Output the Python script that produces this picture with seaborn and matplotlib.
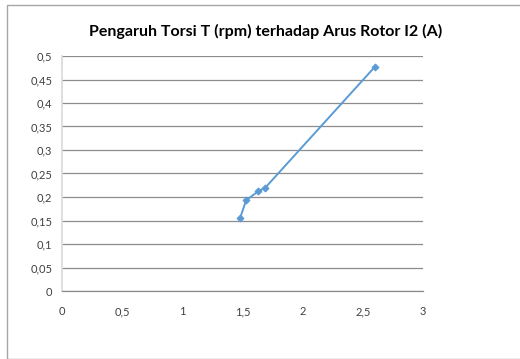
import matplotlib
matplotlib.use("Agg")
import matplotlib.pyplot as plt
import seaborn as sns
import pandas as pd
from matplotlib.ticker import FuncFormatter, MultipleLocator
from matplotlib.patches import Rectangle

torsi = [1.48, 1.53, 1.63, 1.69, 2.60]
arus = [0.155, 0.193, 0.212, 0.220, 0.477]
title = "Pengaruh Torsi T (rpm) terhadap Arus Rotor I2 (A)"

sns.set_style("white")
plt.rcParams['font.family'] = ['Lato', 'DejaVu Sans']

df = pd.DataFrame({"T": torsi, "I2": arus})

fig = plt.figure(figsize=(5.2, 3.59), dpi=100)
# outer chart border
fig.patches.append(Rectangle((7/520, 0), 1, 1 - 5/359, transform=fig.transFigure,
                             fill=False, edgecolor="#a6a6a6", linewidth=1.0))
ax = fig.add_axes([62/520, 1 - 291/359, (423 - 62)/520, (291 - 56)/359])

sns.lineplot(data=df, x="T", y="I2", ax=ax, sort=False, color="#5b9bd5",
             linewidth=1.4, marker="D", markersize=3.5, markeredgecolor="#5b9bd5")

ax.set_xlim(0, 3)
ax.set_ylim(0, 0.5)
ax.xaxis.set_major_locator(MultipleLocator(0.5))
ax.yaxis.set_major_locator(MultipleLocator(0.05))
fmt = FuncFormatter(lambda v, p: ("%g" % round(v, 2)).replace(".", ","))
ax.xaxis.set_major_formatter(fmt)
ax.yaxis.set_major_formatter(fmt)
ax.grid(axis="y", color="#8c8c8c", linewidth=0.9)
ax.grid(axis="x", visible=False)
for s in ["top", "right"]:
    ax.spines[s].set_visible(False)
ax.spines["left"].set_color("#d9d9d9")
ax.spines["left"].set_linewidth(1.2)
ax.spines["bottom"].set_color("#8c8c8c")
ax.spines["bottom"].set_linewidth(0.9)
ax.tick_params(axis="x", direction="out", length=4, width=0.9, color="#8c8c8c",
               labelsize=8, labelcolor="#404040", pad=7)
ax.tick_params(axis="y", direction="out", length=4, width=0.9, color="#8c8c8c",
               labelsize=8, labelcolor="#404040", pad=3)
ax.set_xlabel("")
ax.set_ylabel("")
fig.text(266/520, 1 - 31/359, title, fontsize=11.5, fontweight="bold",
         color="#000000", ha="center", va="center")

fig.savefig("out.png", dpi=100)
